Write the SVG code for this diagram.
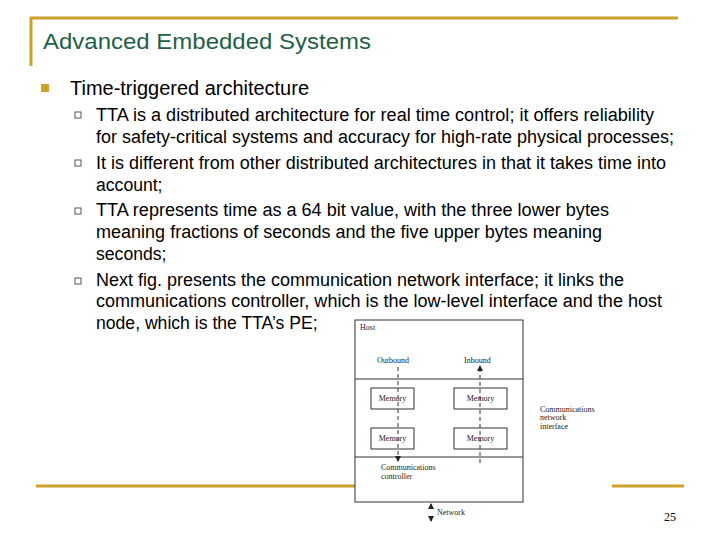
<svg xmlns="http://www.w3.org/2000/svg" width="720" height="540" viewBox="0 0 720 540">
<style>
.t{font-family:"Liberation Sans",Arial,sans-serif;fill:#000}
.s{font-family:"Liberation Serif","Times New Roman",serif;fill:#222;font-size:8px}
.b{fill:none;stroke:#333;stroke-width:1}
.d{stroke:#333;stroke-width:1;stroke-dasharray:4,3;fill:none}
.g{stroke:#c9a227;stroke-width:3}
</style>
<defs><marker id="a" markerWidth="6" markerHeight="6" refX="5" refY="3" orient="auto"><path d="M0,0 L6,3 L0,6 z" fill="#222"/></marker></defs>
<rect width="720" height="540" fill="#fff"/>
<line class="g" x1="30" y1="18" x2="678" y2="18"/>
<line class="g" x1="31" y1="17" x2="31" y2="66"/>
<line class="g" x1="36" y1="486" x2="355" y2="486"/>
<line class="g" x1="612" y1="486" x2="684" y2="486"/>
<text x="43" y="49" font-size="22" textLength="328" lengthAdjust="spacingAndGlyphs" font-family="Liberation Sans,Arial,sans-serif" fill="#1f5f46">Advanced Embedded Systems</text>
<rect x="41" y="84" width="8" height="8" fill="#c9a227"/>
<text class="t" x="70" y="95" font-size="19.5" textLength="239" lengthAdjust="spacingAndGlyphs">Time-triggered architecture</text>
<g fill="none" stroke="#555" stroke-width="1">
<rect x="75" y="112" width="6" height="6"/><rect x="75" y="160" width="6" height="6"/><rect x="75" y="208" width="6" height="6"/><rect x="75" y="278" width="6" height="6"/>
</g>
<g class="t" font-size="17.6">
<text x="96" y="121" textLength="558" lengthAdjust="spacingAndGlyphs">TTA is a distributed architecture for real time control; it offers reliability</text>
<text x="96" y="143" textLength="578" lengthAdjust="spacingAndGlyphs">for safety-critical systems and accuracy for high-rate physical processes;</text>
<text x="96" y="169" textLength="570" lengthAdjust="spacingAndGlyphs">It is different from other distributed architectures in that it takes time into</text>
<text x="96" y="191">account;</text>
<text x="96" y="216" textLength="513" lengthAdjust="spacingAndGlyphs">TTA represents time as a 64 bit value, with the three lower bytes</text>
<text x="96" y="238" textLength="506" lengthAdjust="spacingAndGlyphs">meaning fractions of seconds and the five upper bytes meaning</text>
<text x="96" y="260">seconds;</text>
<text x="96" y="286" textLength="528" lengthAdjust="spacingAndGlyphs">Next fig. presents the communication network interface; it links the</text>
<text x="96" y="307" textLength="566" lengthAdjust="spacingAndGlyphs">communications controller, which is the low-level interface and the host</text>
<text x="96" y="329">node, which is the TTA’s PE;</text>
</g>
<g id="host"><rect class="b" x="355" y="320" width="168" height="182"/><text class="s" x="360" y="330">Host</text>
<line class="b" x1="355" y1="379" x2="523" y2="379"/><line class="b" x1="355" y1="457" x2="523" y2="457"/>
<text class="s" x="377" y="363">Outbound</text><text class="s" x="464" y="363">Inbound</text>
<text class="s" x="381" y="470">Communications</text><text class="s" x="381" y="479">controller</text></g>
<g id="m1"><rect class="b" x="371" y="388" width="43" height="21"/><text class="s" x="392.5" y="401" text-anchor="middle">Memory</text></g>
<g id="m2"><rect class="b" x="371" y="428" width="43" height="21"/><text class="s" x="392.5" y="441" text-anchor="middle">Memory</text></g>
<g id="m3"><rect class="b" x="454" y="388" width="53" height="21"/><text class="s" x="480.5" y="401" text-anchor="middle">Memory</text></g>
<g id="m4"><rect class="b" x="454" y="428" width="53" height="21"/><text class="s" x="480.5" y="441" text-anchor="middle">Memory</text></g>
<g id="cni"><text class="s" x="540" y="412">Communications</text><text class="s" x="540" y="420">network</text><text class="s" x="540" y="429">interface</text></g>
<g id="connectors">
<line class="d" x1="398" y1="367" x2="398" y2="461" marker-end="url(#a)"/>
<line class="d" x1="480" y1="463" x2="480" y2="366" marker-end="url(#a)"/>
<line class="b" x1="431" y1="508" x2="431" y2="504" marker-end="url(#a)"/>
<line class="b" x1="431" y1="516" x2="431" y2="521" marker-end="url(#a)"/>
</g>
<text class="s" x="437" y="515">Network</text>
<text x="664" y="521" font-family="Liberation Serif,serif" font-size="12">25</text>
</svg>
